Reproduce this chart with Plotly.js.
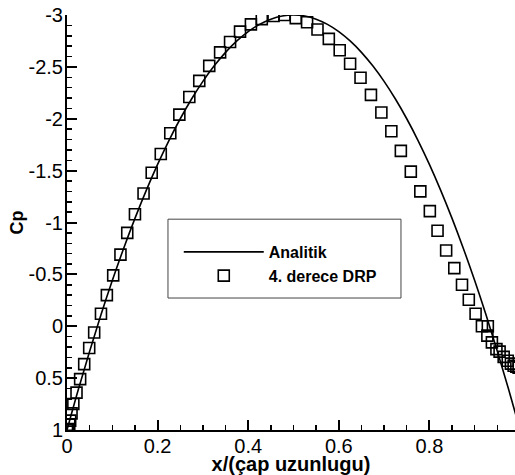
<!DOCTYPE html>
<html>
<head>
<meta charset="utf-8">
<script src="https://cdn.plot.ly/plotly-3.0.1.min.js"></script>
<style>html,body{margin:0;padding:0;background:#fff;}#chart{width:515px;height:475px;}</style>
</head>
<body>
<div id="chart"></div>
<script>
// Analytic curve
const analyticX = [0, 0.025, 0.05, 0.075, 0.1, 0.125, 0.15, 0.175, 0.2, 0.225, 0.25, 0.275, 0.3, 0.325, 0.35, 0.375, 0.4, 0.425, 0.45, 0.475, 0.5, 0.525, 0.55, 0.575, 0.6, 0.625, 0.65, 0.675, 0.7, 0.725, 0.75, 0.775, 0.8, 0.825, 0.85, 0.875, 0.9, 0.925, 0.95, 0.975, 1.0];
const analyticCp = [1, 0.61, 0.24, -0.11, -0.44, -0.75, -1.04, -1.31, -1.56, -1.79, -2.0, -2.19, -2.36, -2.51, -2.64, -2.75, -2.84, -2.91, -2.96, -2.99, -3.0, -2.99, -2.96, -2.91, -2.84, -2.75, -2.64, -2.51, -2.36, -2.19, -2.0, -1.79, -1.56, -1.31, -1.04, -0.75, -0.44, -0.11, 0.24, 0.61, 1.0];

// 4. derece DRP
const drpX = [0.000, 0.002, 0.005, 0.007, 0.010, 0.014, 0.021, 0.029, 0.038, 0.049, 0.060, 0.075, 0.088, 0.102, 0.118, 0.133, 0.150, 0.169, 0.187, 0.207, 0.228, 0.248, 0.270, 0.292, 0.314, 0.338, 0.360, 0.382, 0.406, 0.430, 0.456, 0.480, 0.505, 0.530, 0.553, 0.578, 0.602, 0.625, 0.648, 0.671, 0.694, 0.716, 0.737, 0.759, 0.780, 0.801, 0.818, 0.837, 0.855, 0.872, 0.887, 0.902, 0.916, 0.929, 0.928, 0.938, 0.948, 0.955, 0.964, 0.973, 0.980, 0.986, 0.992, 0.997];
const drpCp = [1.00, 0.99, 0.95, 0.91, 0.84, 0.75, 0.64, 0.51, 0.365, 0.21, 0.06, -0.12, -0.30, -0.49, -0.69, -0.90, -1.08, -1.28, -1.48, -1.66, -1.86, -2.04, -2.21, -2.365, -2.51, -2.64, -2.74, -2.84, -2.91, -2.96, -2.99, -3.00, -2.97, -2.93, -2.86, -2.77, -2.66, -2.53, -2.395, -2.23, -2.06, -1.88, -1.69, -1.49, -1.30, -1.11, -0.92, -0.73, -0.56, -0.40, -0.255, -0.12, 0.0, 0.0, 0.09, 0.155, 0.22, 0.245, 0.295, 0.333, 0.36, 0.38, 0.39, 0.40];

const xTickVals = [0, 0.2, 0.4, 0.6, 0.8];
const xTickText = ['0', '0.2', '0.4', '0.6', '0.8'];
const yTickVals = [-3, -2.5, -2, -1.5, -1, -0.5, 0, 0.5, 1];
const yTickText = ['-3', '-2.5', '-2', '-1.5', '-1', '-0.5', '0', '0.5', '1'];

const FONT = '"Liberation Sans", Arial, Helvetica, sans-serif';

const traces = [
  {
    x: analyticX, y: analyticCp, name: 'Analitik', type: 'scatter', mode: 'lines',
    line: {color: '#000', width: 1.6, shape: 'spline'}
  },
  {
    x: drpX, y: drpCp, name: '4. derece DRP', type: 'scatter', mode: 'markers',
    marker: {symbol: 'square-open', size: 11, color: '#000', line: {color: '#000', width: 1.6}}
  }
];

const layout = {
  width: 515, height: 475,
  margin: {l: 67, r: 0, t: 15, b: 45},
  paper_bgcolor: '#fff', plot_bgcolor: '#fff',
  font: {family: FONT, color: '#000'},
  xaxis: {
    range: [0, 0.989], showgrid: false, zeroline: false,
    showline: true, linecolor: '#000', linewidth: 2,
    tickmode: 'array', tickvals: xTickVals, ticktext: xTickText,
    ticks: 'inside', ticklen: 10, tickwidth: 2, tickcolor: '#000',
    minor: {tickmode: 'linear', tick0: 0, dtick: 0.05, ticks: 'inside', ticklen: 5, tickwidth: 1.5, tickcolor: '#000'},
    tickfont: {size: 20, family: FONT, color: '#000'},
    ticklabelstandoff: -3,
    title: {text: '<b>x/(çap uzunlugu)</b>', font: {size: 20, family: FONT, color: '#000'}, standoff: 0}
  },
  yaxis: {
    range: [1, -3], showgrid: false, zeroline: false,
    showline: true, linecolor: '#000', linewidth: 2,
    tickmode: 'array', tickvals: yTickVals, ticktext: yTickText,
    ticks: 'inside', ticklen: 10, tickwidth: 2, tickcolor: '#000',
    minor: {tickmode: 'linear', tick0: 0, dtick: 0.1, ticks: 'inside', ticklen: 5, tickwidth: 1.5, tickcolor: '#000'},
    tickfont: {size: 20, family: FONT, color: '#000'},
    ticklabelstandoff: -2,
    title: {text: '<b>Cp</b>', font: {size: 18, family: FONT, color: '#000'}, standoff: 0}
  },
  showlegend: true,
  legend: {
    x: 0.2495, y: 0.47, xanchor: 'left', yanchor: 'top',
    bgcolor: 'rgba(0,0,0,0)', borderwidth: 0,
    itemwidth: 80, tracegroupgap: 0,
    font: {size: 16, family: FONT, color: '#000', weight: 'bold'}
  },
  shapes: [
    {type: 'rect', xref: 'paper', yref: 'paper', x0: 0.2254, x1: 0.7455, y0: 0.318, y1: 0.508,
     line: {color: '#444', width: 1}, fillcolor: 'rgba(0,0,0,0)', layer: 'below'}
  ]
};

Plotly.newPlot('chart', traces, layout, {displayModeBar: false, staticPlot: true});
</script>
</body>
</html>
